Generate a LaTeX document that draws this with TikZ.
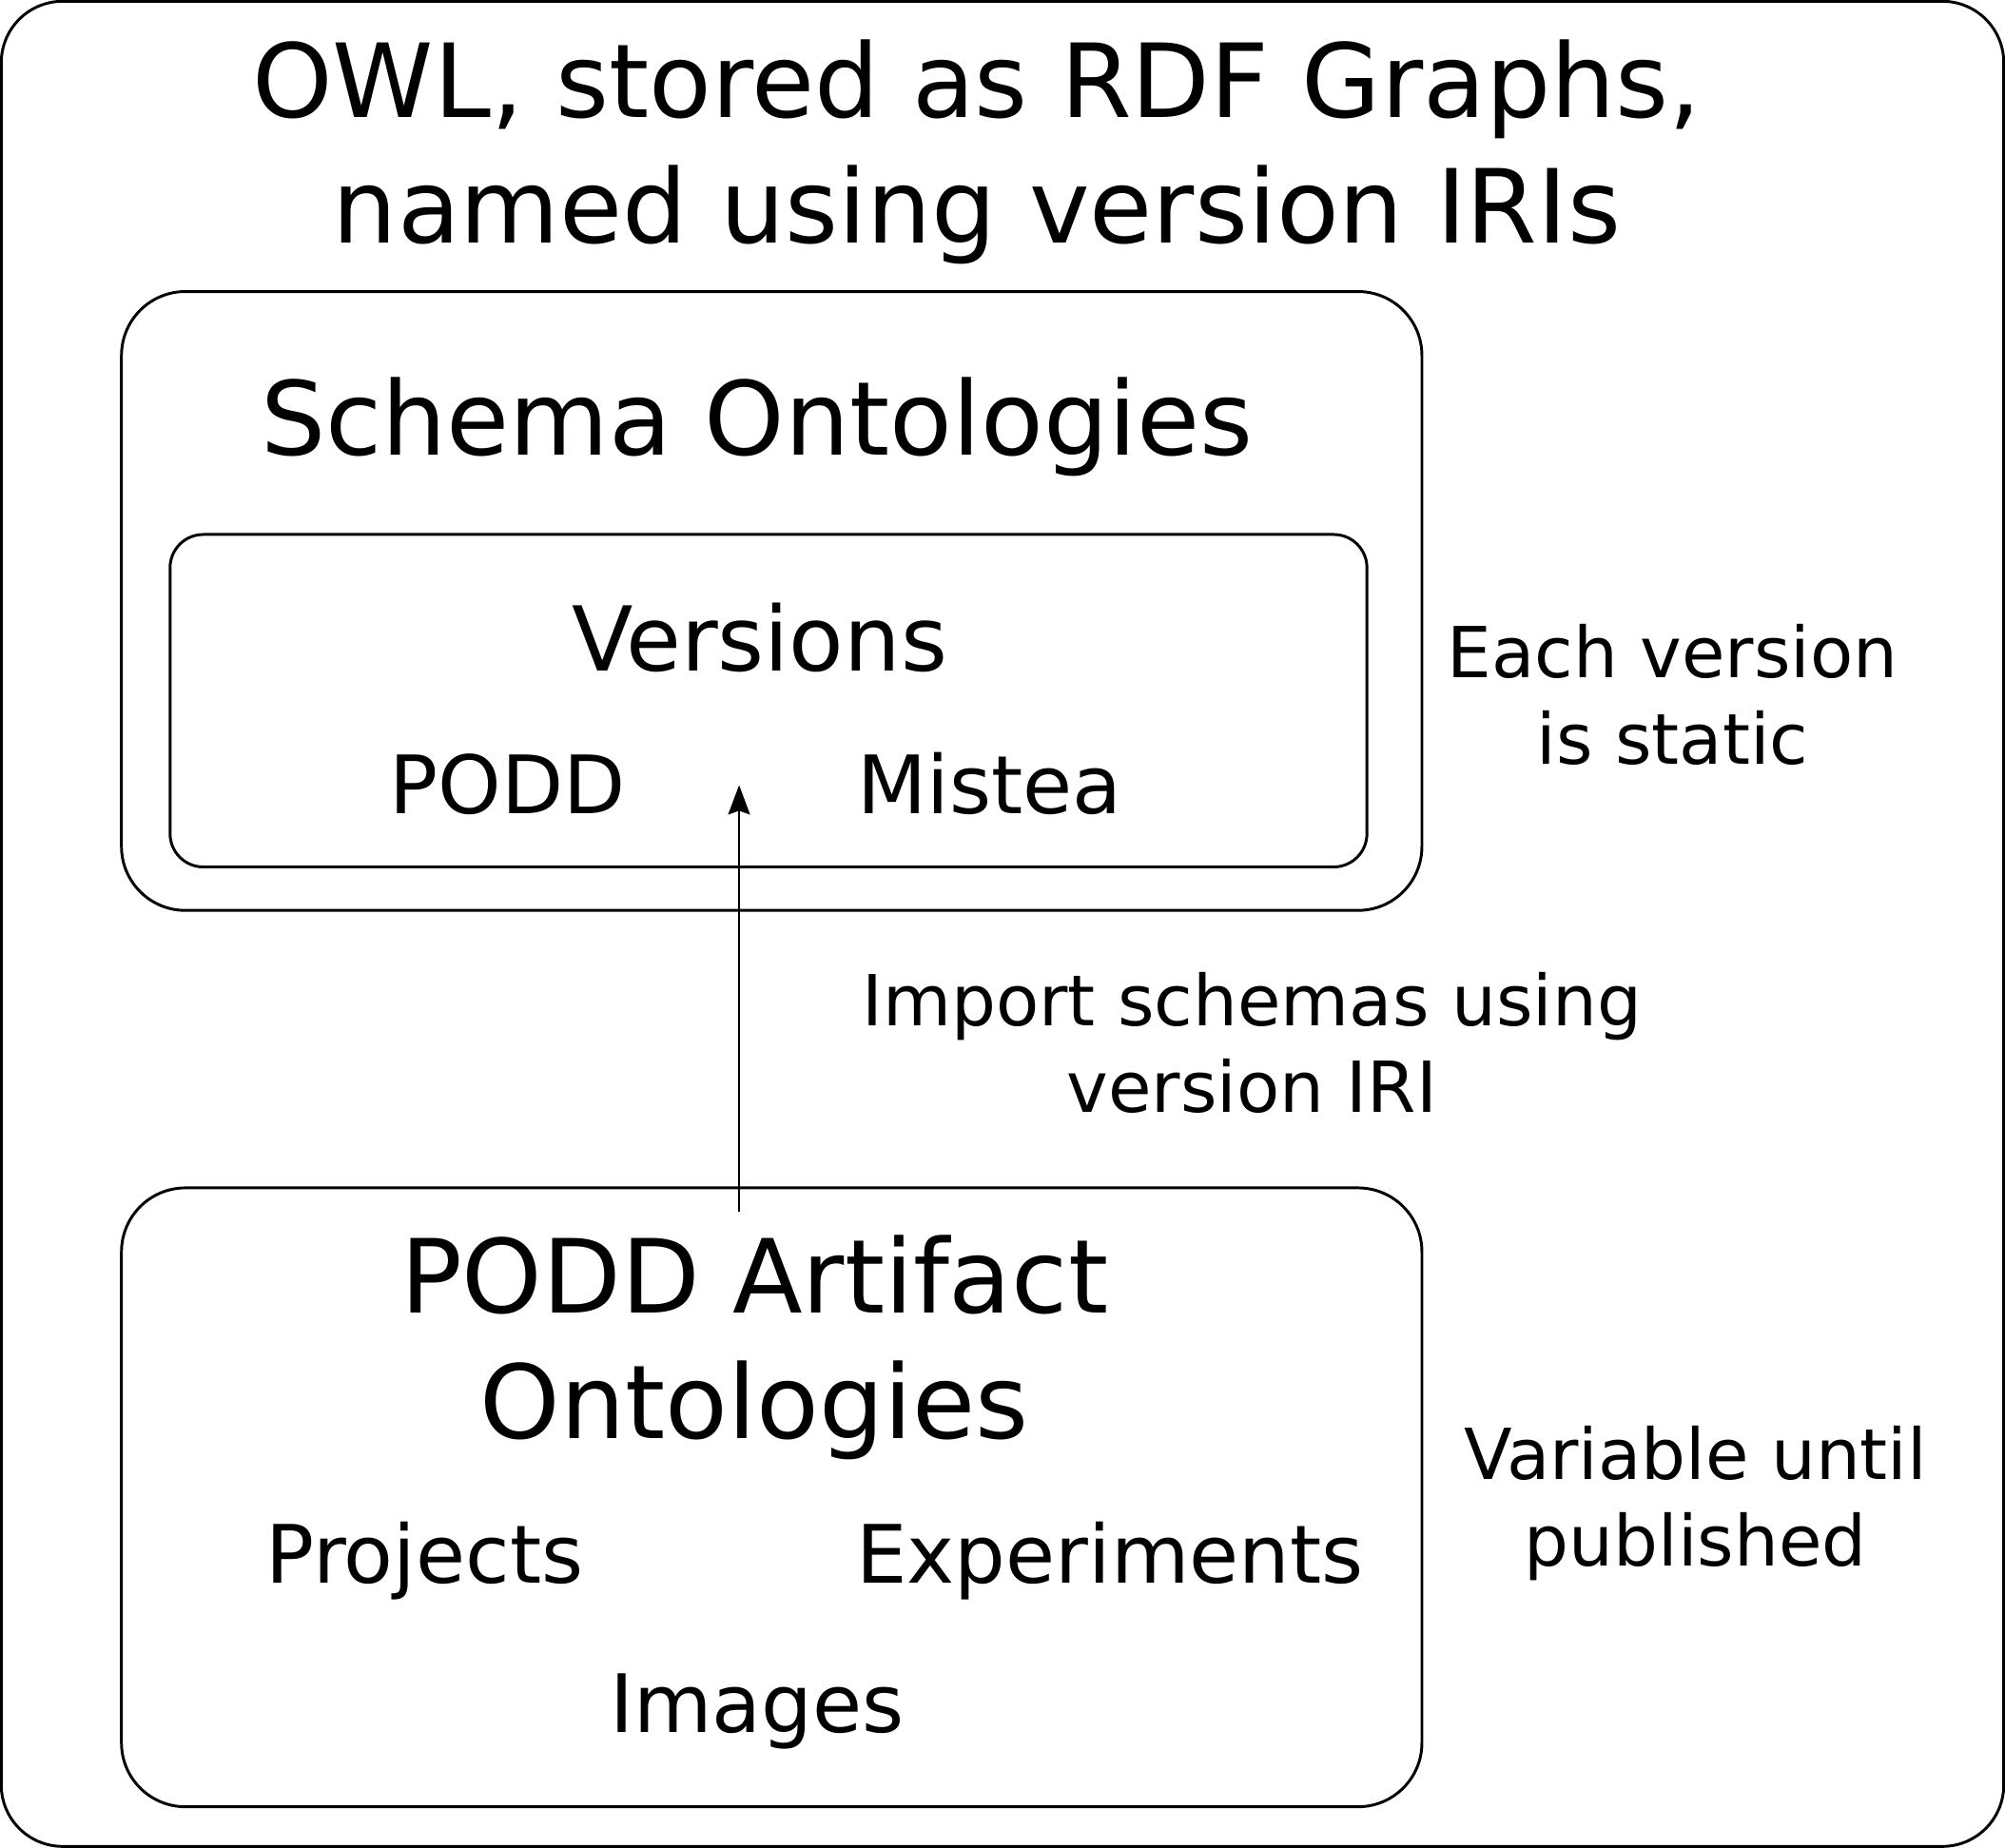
\documentclass[tikz,border=0pt]{standalone}
\usepackage{fontspec}
\setmainfont{DejaVu Sans}
\usetikzlibrary{arrows.meta}
\begin{document}
\begin{tikzpicture}[x=1pt,y=-1pt,
  box/.style={draw=black,line width=2.2pt},
  big/.style={font=\fontsize{80}{98}\selectfont,anchor=base,inner sep=0pt,align=center},
  mid/.style={font=\fontsize{70}{86}\selectfont,anchor=base,inner sep=0pt},
  item/.style={font=\fontsize{63}{78}\selectfont,anchor=base,inner sep=0pt},
  side/.style={font=\fontsize{55}{68}\selectfont,anchor=base,inner sep=0pt,align=center},
  link/.style={line width=1.8pt,-{Stealth[length=23pt,width=17pt,inset=3pt]}}]
\useasboundingbox (0,0) rectangle (1568,1445);
% boxes
\draw[box,rounded corners=48pt] (1,1) rectangle (1567,1444);
\draw[box,rounded corners=50pt] (95,228) rectangle (1112,712);
\draw[box,rounded corners=26pt] (133,418) rectangle (1069,678);
\draw[box,rounded corners=50pt] (95,929) rectangle (1112,1413);
% texts (base anchor = baseline of the last line)
\node[big] (title) at (764,190) {OWL, stored as RDF Graphs,\\named using version IRIs};
\node[big] (schema) at (592,356) {Schema Ontologies};
\node[mid] (versions) at (594,525) {Versions};
\node[item] (podd) at (397,636) {PODD};
\node[item] (mistea) at (774,636) {Mistea};
\node[side] (static) at (1308,598) {Each version\\is static};
\node[side] (import) at (979,870) {Import schemas using\\version IRI};
\node[big] (artifact) at (590,1125) {PODD Artifact\\Ontologies};
\node[item] (projects) at (332,1238) {Projects};
\node[item] (experiments) at (868,1238) {Experiments};
\node[item] (images) at (592,1355) {Images};
\node[side] (variable) at (1326,1225) {Variable until\\published};
% arrow
\coordinate (astart) at (578,948);
\coordinate (aend) at (578,614);
\draw[link] (astart) -- (aend);
\end{tikzpicture}
\end{document}
